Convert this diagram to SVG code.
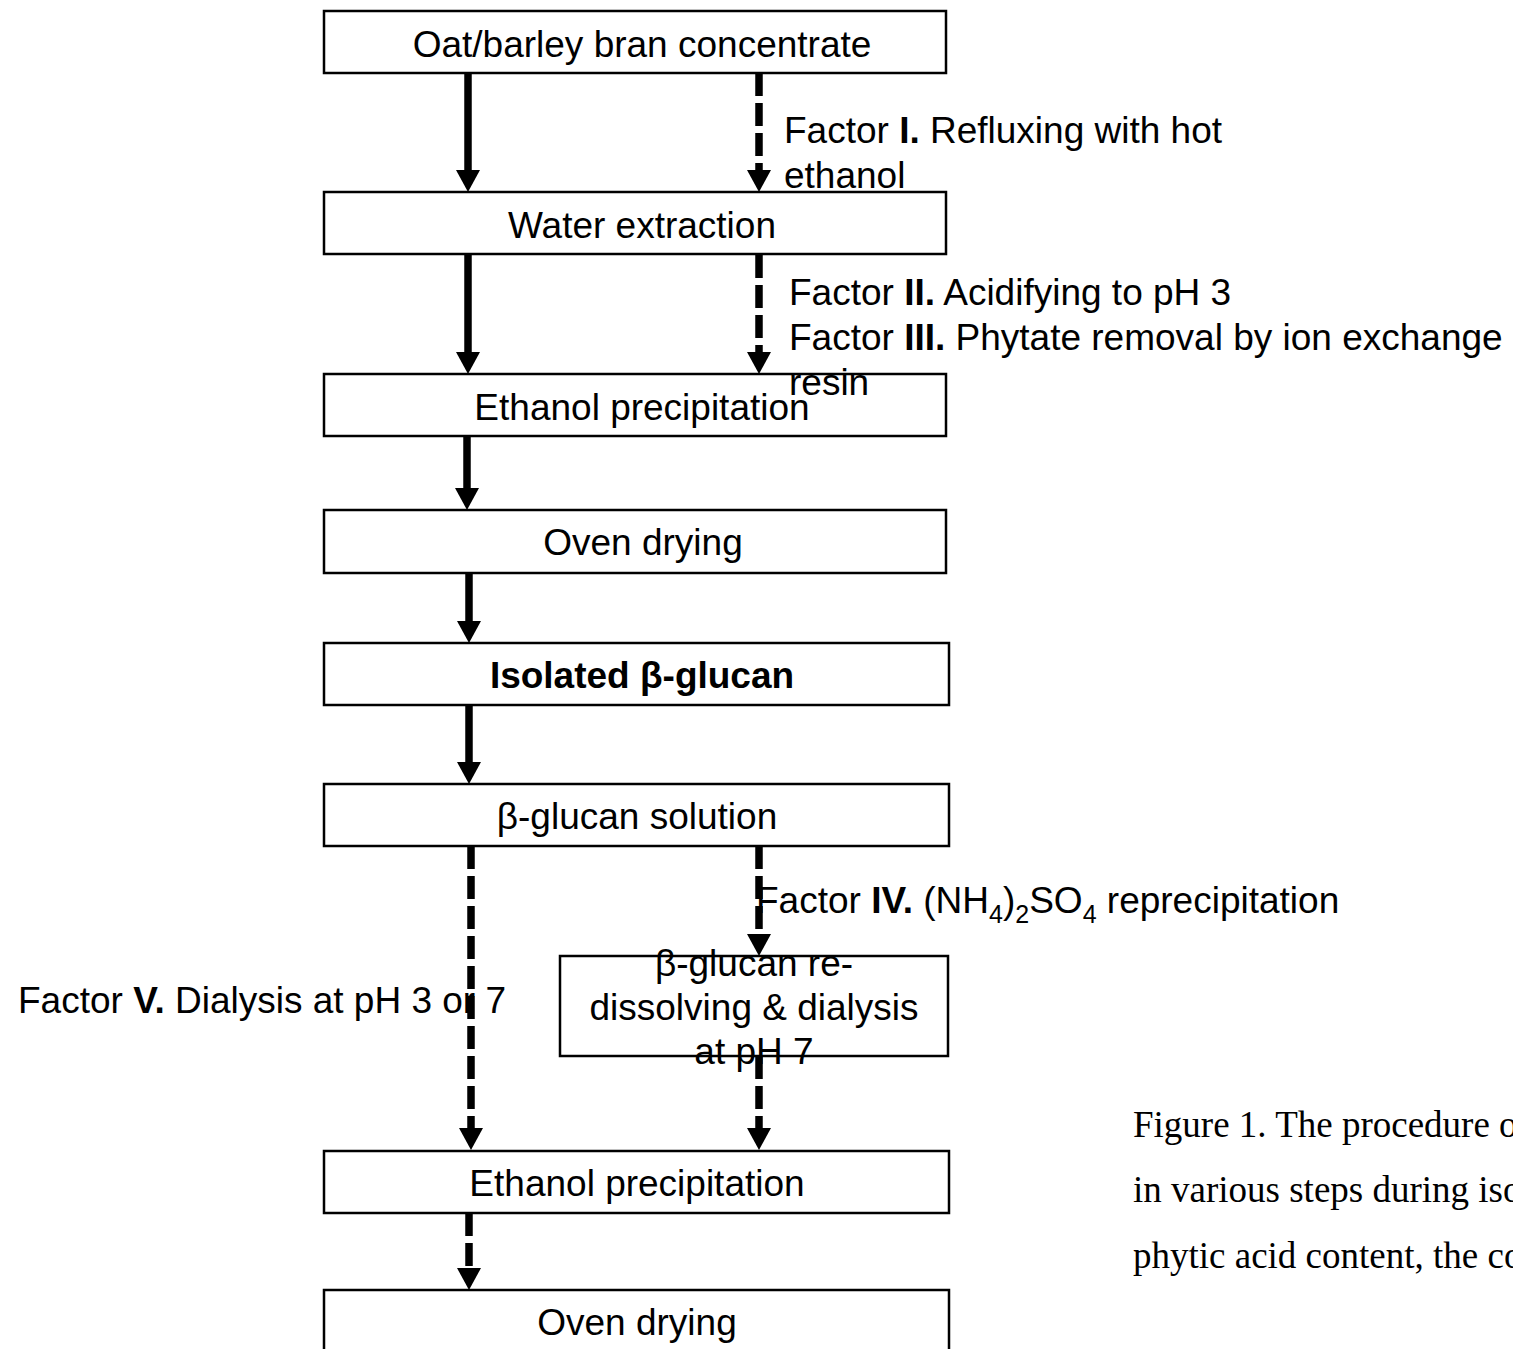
<svg xmlns="http://www.w3.org/2000/svg" width="1513" height="1349" viewBox="0 0 1513 1349">
<style>
.box{fill:#fff;stroke:#000;stroke-width:2.5}
.t{font-family:"Liberation Sans",Arial,sans-serif;font-size:37px;fill:#000}
.c{text-anchor:middle}
.b{font-weight:bold}
.cap{font-family:"Liberation Serif","Times New Roman",serif;font-size:37px;fill:#000}
.ar{stroke:#000;stroke-width:7.5;fill:none;marker-end:url(#ah)}
.ds{stroke-dasharray:23 7}
</style>
<defs>
<marker id="ah" viewBox="0 0 22 24" refX="0" refY="12" markerWidth="22" markerHeight="24" markerUnits="userSpaceOnUse" orient="auto">
<path d="M0,0 L22,12 L0,24 Z" fill="#000"/>
</marker>
</defs>
<rect width="1513" height="1349" fill="#fff"/>

<g id="connectors">
<line class="ar" x1="468" y1="73" x2="468" y2="170"/>
<line class="ar ds" x1="759" y1="73" x2="759" y2="170"/>
<line class="ar" x1="468" y1="255" x2="468" y2="352"/>
<line class="ar ds" x1="759" y1="255" x2="759" y2="352"/>
<line class="ar" x1="467" y1="436" x2="467" y2="488"/>
<line class="ar" x1="469" y1="573" x2="469" y2="621"/>
<line class="ar" x1="469" y1="705" x2="469" y2="762"/>
<line class="ar ds" x1="759" y1="846" x2="759" y2="934"/>
<line class="ar ds" x1="471" y1="846" x2="471" y2="1128"/>
<line class="ar ds" x1="759" y1="1056" x2="759" y2="1128"/>
<line class="ar ds" x1="469" y1="1213" x2="469" y2="1268"/>
</g>

<g id="n1"><rect class="box" x="324" y="11" width="622" height="62"/><text class="t c" x="642" y="57">Oat/barley bran concentrate</text></g>
<g id="n2"><rect class="box" x="324" y="192" width="622" height="62"/><text class="t c" x="642" y="238">Water extraction</text></g>
<g id="n3"><rect class="box" x="324" y="374" width="622" height="62"/><text class="t c" x="642" y="420">Ethanol precipitation</text></g>
<g id="n4"><rect class="box" x="324" y="510" width="622" height="63"/><text class="t c" x="643" y="555">Oven drying</text></g>
<g id="n5"><rect class="box" x="324" y="643" width="625" height="62"/><text class="t c b" x="642" y="688">Isolated β-glucan</text></g>
<g id="n6"><rect class="box" x="324" y="784" width="625" height="62"/><text class="t c" x="637" y="829">β-glucan solution</text></g>
<g id="n7"><rect class="box" x="560" y="956" width="388" height="100"/>
<text class="t c" x="754" y="976">β-glucan re-</text>
<text class="t c" x="754" y="1020">dissolving &amp; dialysis</text>
<text class="t c" x="754" y="1064">at pH 7</text></g>
<g id="n8"><rect class="box" x="324" y="1151" width="625" height="62"/><text class="t c" x="637" y="1196">Ethanol precipitation</text></g>
<g id="n9"><rect class="box" x="324" y="1290" width="625" height="62"/><text class="t c" x="637" y="1335">Oven drying</text></g>

<g id="labels">
<text class="t" x="784" y="143">Factor <tspan class="b">I.</tspan> Refluxing with hot</text>
<text class="t" x="784" y="188">ethanol</text>
<text class="t" x="789" y="305">Factor <tspan class="b">II.</tspan> Acidifying to pH 3</text>
<text class="t" x="789" y="350">Factor <tspan class="b">III.</tspan> Phytate removal by ion exchange</text>
<text class="t" x="789" y="395">resin</text>
<text class="t" x="756" y="913">Factor <tspan class="b">IV.</tspan> (NH<tspan font-size="25" dy="10">4</tspan><tspan dy="-10">)</tspan><tspan font-size="25" dy="10">2</tspan><tspan dy="-10">SO</tspan><tspan font-size="25" dy="10">4</tspan><tspan dy="-10"> reprecipitation</tspan></text>
<text class="t" x="18" y="1013">Factor <tspan class="b">V.</tspan> Dialysis at pH 3 or 7</text>
</g>

<g id="caption">
<text class="cap" x="1133" y="1137">Figure 1. The procedure o</text>
<text class="cap" x="1133" y="1202">in various steps during iso</text>
<text class="cap" x="1133" y="1268">phytic acid content, the co</text>
</g>
</svg>
